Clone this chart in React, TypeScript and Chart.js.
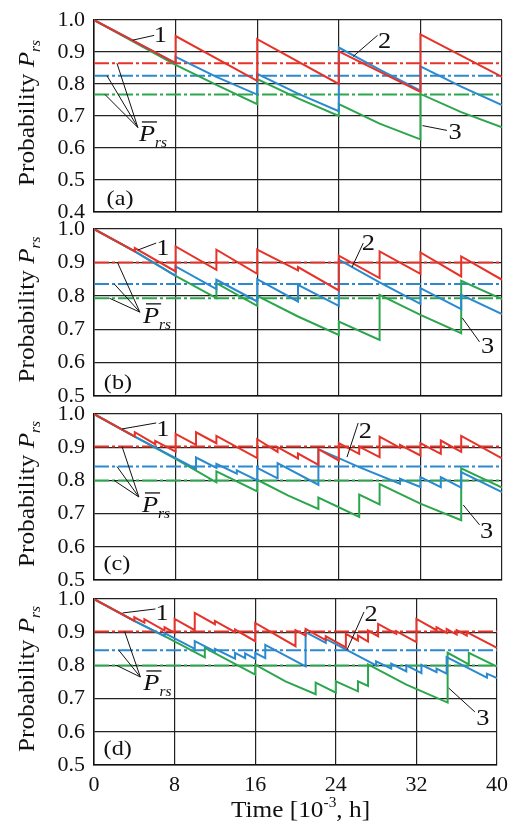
import React, { useEffect, useRef } from 'react';
import { Chart, registerables } from 'chart.js';

Chart.register(...registerables);

type Pt = [number, number];

// ---------------- data ----------------
const timeTicks = [0, 8, 16, 24, 32, 40];

// Panel (a)
const aCurve1: Pt[] = [[0, 1.0], [8, 0.865], [8, 0.95], [16, 0.81], [16, 0.94], [24, 0.8], [24, 0.902], [32, 0.775], [32, 0.955], [40, 0.822]];
const aCurve2: Pt[] = [[0, 1.0], [8, 0.865], [8, 0.885], [12, 0.822], [16, 0.767], [16, 0.832], [20, 0.77], [24, 0.715], [24, 0.914], [28, 0.845], [32, 0.779], [32, 0.855], [36, 0.792], [40, 0.734]];
const aCurve3: Pt[] = [[0, 1.0], [8, 0.86], [12, 0.797], [16, 0.737], [16, 0.815], [20, 0.755], [24, 0.7], [24, 0.737], [28, 0.676], [32, 0.627], [32, 0.769], [36, 0.712], [40, 0.665]];
const aMean = [0.865, 0.826, 0.767];

// Panel (b)
const bCurve1: Pt[] = [[0, 1.0], [4, 0.933], [4, 0.943], [8, 0.873], [8, 0.948], [12, 0.878], [12, 0.938], [16, 0.866], [16, 0.938], [20, 0.876], [20, 0.886], [24, 0.816], [24, 0.92], [28, 0.853], [28, 0.933], [32, 0.866], [32, 0.93], [36, 0.858], [36, 0.918], [40, 0.848]];
const bCurve2: Pt[] = [[0, 1.0], [4, 0.933], [8, 0.86], [8, 0.888], [12, 0.82], [12, 0.848], [16, 0.783], [16, 0.85], [20, 0.783], [20, 0.833], [24, 0.77], [24, 0.908], [28, 0.84], [32, 0.776], [32, 0.823], [36, 0.76], [36, 0.803], [40, 0.745]];
const bCurve3: Pt[] = [[0, 1.0], [4, 0.933], [8, 0.86], [12, 0.793], [12, 0.838], [16, 0.77], [16, 0.8], [20, 0.738], [24, 0.683], [24, 0.723], [28, 0.668], [28, 0.803], [32, 0.743], [36, 0.688], [36, 0.845], [40, 0.79]];
const bMean = [0.9, 0.835, 0.793];

// Panel (c)
const cCurve1: Pt[] = [[0, 1.0], [4, 0.932], [4, 0.945], [6, 0.909], [6, 0.919], [8, 0.887], [8, 0.94], [10, 0.907], [10, 0.945], [12, 0.912], [12, 0.934], [16, 0.867], [16, 0.924], [18, 0.886], [18, 0.9], [20, 0.866], [20, 0.881], [22, 0.847], [22, 0.894], [24, 0.86], [24, 0.912], [26, 0.88], [26, 0.902], [28, 0.87], [28, 0.932], [30, 0.898], [30, 0.907], [32, 0.875], [32, 0.912], [34, 0.88], [34, 0.92], [36, 0.886], [36, 0.934], [40, 0.866]];
const cCurve2: Pt[] = [[0, 1.0], [4, 0.932], [8, 0.867], [10, 0.835], [10, 0.869], [12, 0.838], [12, 0.85], [14, 0.82], [14, 0.83], [16, 0.8], [16, 0.838], [18, 0.806], [18, 0.852], [22, 0.787], [22, 0.894], [26, 0.84], [30, 0.79], [30, 0.805], [32, 0.78], [32, 0.81], [34, 0.78], [34, 0.81], [36, 0.778], [36, 0.825], [40, 0.765]];
const cCurve3: Pt[] = [[0, 1.0], [4, 0.932], [8, 0.865], [12, 0.794], [12, 0.827], [16, 0.767], [16, 0.802], [19, 0.755], [22, 0.714], [22, 0.748], [26, 0.69], [26, 0.757], [28, 0.728], [28, 0.789], [32, 0.73], [36, 0.68], [36, 0.836], [40, 0.778]];
const cMean = [0.902, 0.842, 0.8];

// Panel (d)
const dCurve1: Pt[] = [[0, 1.0], [4, 0.934], [4, 0.945], [5, 0.929], [5, 0.939], [7, 0.905], [7, 0.915], [8, 0.898], [8, 0.94], [10, 0.906], [10, 0.958], [12, 0.924], [12, 0.934], [14, 0.9], [14, 0.908], [16, 0.873], [16, 0.928], [20, 0.858], [20, 0.906], [21, 0.89], [21, 0.91], [23, 0.876], [23, 0.888], [25, 0.854], [25, 0.895], [26.2, 0.875], [26.2, 0.89], [27.2, 0.872], [27.2, 0.905], [28.2, 0.888], [28.2, 0.925], [30, 0.895], [30, 0.903], [32, 0.87], [32, 0.94], [34, 0.906], [34, 0.915], [35, 0.898], [35, 0.91], [36, 0.893], [36, 0.906], [37, 0.89], [37, 0.9], [40, 0.853]];
const dCurve2: Pt[] = [[0, 1.0], [4, 0.934], [7, 0.888], [7, 0.897], [10, 0.85], [10, 0.873], [12, 0.842], [12, 0.85], [14, 0.82], [14, 0.838], [15, 0.822], [15, 0.836], [16, 0.82], [16, 0.838], [17, 0.822], [17, 0.862], [21, 0.797], [21, 0.9], [23, 0.868], [23, 0.88], [28, 0.8], [28, 0.812], [29.5, 0.79], [29.5, 0.805], [31, 0.782], [31, 0.8], [32.5, 0.777], [32.5, 0.802], [34, 0.78], [34, 0.79], [35, 0.775], [35, 0.825], [39, 0.763], [39, 0.775], [40, 0.762]];
const dCurve3: Pt[] = [[0, 1.0], [4, 0.934], [7, 0.888], [11, 0.824], [11, 0.853], [16, 0.772], [16, 0.802], [19, 0.752], [22, 0.713], [22, 0.748], [24, 0.718], [24, 0.752], [26.2, 0.722], [26.2, 0.752], [27.2, 0.738], [27.2, 0.803], [31, 0.742], [35.1, 0.688], [35.1, 0.838], [37.2, 0.803], [37.2, 0.838], [40, 0.796]];
const dMean = [0.902, 0.846, 0.8];

// annotation anchors (data coordinates)
const aNotes = {
  labels: [['1', 6.5, 0.955], ['2', 28.5, 0.937], ['3', 35.4, 0.652]] as [string, number, number][],
  leaders: [[3.8, 0.937, 5.9, 0.952], [25.4, 0.886, 27.8, 0.952], [32.2, 0.67, 34.6, 0.655]],
  pbar: { t: 4.4, p: 0.622, tipT: 4.3, tipP: 0.664, targets: [2.25, 1.27, 1.08] },
  tag: ['(a)', 2.55, 0.445] as [string, number, number],
};
const bNotes = {
  labels: [['1', 6.76, 0.946], ['2', 26.9, 0.961], ['3', 38.6, 0.653]] as [string, number, number][],
  leaders: [[4.3, 0.937, 6.1, 0.958], [25.3, 0.886, 26.4, 0.958], [36.1, 0.734, 37.8, 0.662]],
  pbar: { t: 4.8, p: 0.719, tipT: 4.5, tipP: 0.751, targets: [2.3, 2.0, 1.5] },
  tag: ['(b)', 2.35, 0.542] as [string, number, number],
};
const cNotes = {
  labels: [['1', 6.76, 0.958], ['2', 26.6, 0.952], ['3', 38.5, 0.651]] as [string, number, number][],
  leaders: [[2.75, 0.955, 6.1, 0.973], [24.8, 0.87, 25.9, 0.973], [36.2, 0.726, 37.8, 0.666]],
  pbar: { t: 4.7, p: 0.705, tipT: 4.4, tipP: 0.75, targets: [2.75, 2.25, 1.96] },
  tag: ['(c)', 2.25, 0.551] as [string, number, number],
};
const dNotes = {
  labels: [['1', 6.76, 0.961], ['2', 27.5, 0.958], ['3', 38.6, 0.645]] as [string, number, number][],
  leaders: [[2.84, 0.958, 6.1, 0.97], [25.1, 0.846, 26.8, 0.961], [35.2, 0.732, 37.8, 0.66]],
  pbar: { t: 4.9, p: 0.726, tipT: 4.6, tipP: 0.765, targets: [3.04, 2.45, 2.25] },
  tag: ['(d)', 2.35, 0.551] as [string, number, number],
};

// ---------------- styles / layout ----------------
const W = 517;
const H = 829;
const COLORS = ['#e6332a', '#2b89cf', '#2ca64d'];
const INK = '#111';
const GRID = '#222';
const SERIF = '"Liberation Serif", "Times New Roman", serif';
const HS = 1.1;

const panels = [
  { c: [aCurve1, aCurve2, aCurve3], mean: aMean, notes: aNotes, yMin: 0.4, top: 12, bottom: 212, last: false },
  { c: [bCurve1, bCurve2, bCurve3], mean: bMean, notes: bNotes, yMin: 0.5, top: 229, bottom: 396, last: false },
  { c: [cCurve1, cCurve2, cCurve3], mean: cMean, notes: cNotes, yMin: 0.5, top: 414, bottom: 580, last: false },
  { c: [dCurve1, dCurve2, dCurve3], mean: dMean, notes: dNotes, yMin: 0.5, top: 599, bottom: 765, last: true },
];

type Run = { t: string; size: number; italic?: boolean; dy?: number };
const fontOf = (r: Run) => `${r.italic ? 'italic ' : ''}${r.size}px ${SERIF}`;

function drawRuns(ctx: CanvasRenderingContext2D, runs: Run[], x: number, y: number, align: 'left' | 'center') {
  ctx.save();
  ctx.translate(x, y);
  ctx.scale(HS, 1);
  ctx.textAlign = 'left';
  ctx.textBaseline = 'alphabetic';
  let w = 0;
  for (const r of runs) {
    ctx.font = fontOf(r);
    w += ctx.measureText(r.t).width;
  }
  let cx = align === 'center' ? -w / 2 : 0;
  for (const r of runs) {
    ctx.font = fontOf(r);
    ctx.fillText(r.t, cx, r.dy || 0);
    cx += ctx.measureText(r.t).width;
  }
  ctx.restore();
}

function seg(ctx: CanvasRenderingContext2D, x1: number, y1: number, x2: number, y2: number) {
  ctx.beginPath();
  ctx.moveTo(x1, y1);
  ctx.lineTo(x2, y2);
  ctx.stroke();
}

function drawNotes(chart: any, cfg: any) {
  const { ctx, chartArea } = chart;
  const xs = chart.scales.x;
  const ys = chart.scales.y;
  const X = (t: number) => xs.getPixelForValue(t);
  const Y = (p: number) => ys.getPixelForValue(p);
  const n = cfg.notes;
  ctx.save();
  ctx.strokeStyle = INK;
  ctx.fillStyle = INK;
  ctx.lineWidth = 1;
  for (const [t1, p1, t2, p2] of n.leaders) seg(ctx, X(t1), Y(p1), X(t2), Y(p2));
  for (const [txt, t, p] of n.labels) drawRuns(ctx, [{ t: txt, size: 24 }], X(t), Y(p) + 8, 'center');
  // mean-value label with leaders
  const pb = n.pbar;
  const tx = X(pb.tipT);
  const ty = Y(pb.tipP);
  pb.targets.forEach((tt: number, i: number) => seg(ctx, tx, ty, X(tt), Y(cfg.mean[i])));
  const px = X(pb.t);
  const py = Y(pb.p);
  drawRuns(ctx, [{ t: 'P', size: 24, italic: true }, { t: 'rs', size: 14, italic: true, dy: 6 }], px, py, 'left');
  ctx.font = fontOf({ t: 'P', size: 24, italic: true });
  const pw = ctx.measureText('P').width * HS;
  ctx.lineWidth = 1.3;
  seg(ctx, px + 3, py - 19, px + pw + 2, py - 19);
  // panel tag
  drawRuns(ctx, [{ t: n.tag[0], size: 22 }], X(n.tag[1]), Y(n.tag[2]) + 7, 'center');
  // y title
  ctx.save();
  ctx.translate(34, (chartArea.top + chartArea.bottom) / 2 - 3);
  ctx.rotate(-Math.PI / 2);
  drawRuns(ctx, [{ t: 'Probability ', size: 23 }, { t: 'P', size: 23, italic: true }, { t: 'rs', size: 14, italic: true, dy: 6 }], 0, 0, 'center');
  ctx.restore();
  // x title
  if (cfg.last) {
    drawRuns(ctx, [{ t: 'Time [10', size: 23 }, { t: '-3', size: 14, dy: -10 }, { t: ', h]', size: 23 }], (chartArea.left + chartArea.right) / 2 + 5, 817, 'center');
  }
  ctx.restore();
}

function Panel({ cfg }: { cfg: any }) {
  const ref = useRef<HTMLCanvasElement>(null);
  useEffect(() => {
    const canvas = ref.current!;
    const datasets: any[] = [
      ...cfg.c.map((curve: Pt[], i: number) => ({
        label: `curve ${i + 1}`,
        data: curve.map(([x, y]) => ({ x, y })),
        borderColor: COLORS[i],
        borderWidth: 2,
        pointRadius: 0,
        tension: 0,
        fill: false,
      })),
      ...cfg.mean.map((m: number, i: number) => ({
        label: `mean ${i + 1}`,
        data: [{ x: timeTicks[0], y: m }, { x: timeTicks[timeTicks.length - 1], y: m }],
        borderColor: COLORS[i],
        borderWidth: 2,
        borderDash: [15, 3, 3, 3],
        pointRadius: 0,
        fill: false,
      })),
    ];
    const tickFont = { family: SERIF, size: 22, lineHeight: 1 };
    const plugin = { id: 'annot', afterDraw: (chart: any) => drawNotes(chart, cfg) };
    const chart = new Chart(canvas, {
      type: 'line',
      data: { datasets },
      options: {
        animation: false,
        responsive: false,
        devicePixelRatio: 1,
        layout: { padding: { left: 0, right: 15, top: cfg.top, bottom: cfg.last ? 0 : H - cfg.bottom } },
        plugins: { legend: { display: false }, tooltip: { enabled: false } },
        scales: {
          x: {
            type: 'linear',
            min: timeTicks[0],
            max: timeTicks[timeTicks.length - 1],
            afterBuildTicks: (s: any) => { s.ticks = timeTicks.map((v) => ({ value: v })); },
            ticks: { display: cfg.last, padding: 9, font: tickFont, color: INK, callback: (v: any) => String(v) },
            grid: { color: GRID, lineWidth: 1.2, drawTicks: false },
            border: { color: INK, width: 1.5 },
            afterFit: (s: any) => { s.height = cfg.last ? H - cfg.bottom : 0; },
          },
          y: {
            type: 'linear',
            min: cfg.yMin,
            max: 1,
            ticks: { stepSize: 0.1, padding: 9, font: tickFont, color: INK, callback: (v: any) => Number(v).toFixed(1) },
            grid: { color: GRID, lineWidth: 1.2, drawTicks: false },
            border: { color: INK, width: 1.5 },
            afterFit: (s: any) => { s.width = 94; },
          },
        },
      } as any,
      plugins: [plugin],
    });
    return () => chart.destroy();
  }, [cfg]);
  return <canvas ref={ref} width={W} height={H} style={{ position: 'absolute', left: 0, top: 0, width: W, height: H }} />;
}

export default function App() {
  return (
    <div style={{ position: 'absolute', left: 0, top: 0, width: W, height: H, background: '#fff', overflow: 'hidden' }}>
      {panels.map((p, i) => <Panel key={i} cfg={p} />)}
    </div>
  );
}
